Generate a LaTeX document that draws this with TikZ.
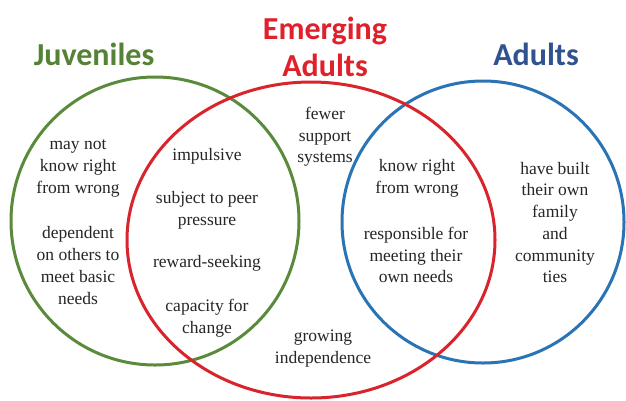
\documentclass[tikz,border=0pt]{standalone}
\usepackage{fontspec}
\setmainfont{Liberation Serif}
\newfontfamily\bodyfont{Liberation Serif}
\newfontfamily\titlefont{Carlito}
\definecolor{jgreen}{HTML}{5A8A3C}
\definecolor{ered}{HTML}{D9242C}
\definecolor{ablue}{HTML}{2A74B6}
\definecolor{tgreen}{HTML}{568236}
\definecolor{tred}{HTML}{E0202A}
\definecolor{tblue}{HTML}{30528F}
\begin{document}
\begin{tikzpicture}[x=1pt,y=-1pt,
  ring/.style={line width=3pt},
  body/.style={align=center,inner sep=0pt,font=\bodyfont\fontsize{17.5}{21.7}\selectfont,text=black!85},
  title/.style={align=center,inner sep=0pt,font=\titlefont\bfseries\fontsize{32}{37}\selectfont}]
\useasboundingbox[fill=white] (0,0) rectangle (626,400);
\draw[ring,jgreen] (155,221) circle[radius=144];
\draw[ring,ablue] (483,222) circle[radius=141];
\draw[ring,ered] (311,240) ellipse[x radius=184,y radius=158];
\node[title,text=tgreen,anchor=base] (tj) at (94,65) {Juveniles};
\node[title,text=tred,anchor=base] (te1) at (325,39) {Emerging};
\node[title,text=tred,anchor=base] (te2) at (325,76) {Adults};
\node[title,text=tblue,anchor=base] (ta) at (536,65) {Adults};
\node[body] (j1) at (78,168.5) {may not\\know right\\from wrong};
\node[body] (j2) at (78,265.5) {dependent\\on others to\\meet basic\\needs};
\node[body] (m1) at (207,156) {impulsive};
\node[body] (m2) at (207,210) {subject to peer\\pressure};
\node[body] (m3) at (207,263) {reward-seeking};
\node[body] (m4) at (207,318) {capacity for\\change};
\node[body] (c1) at (325,137) {fewer\\support\\systems};
\node[body] (c2) at (323,348.5) {growing\\independence};
\node[body] (r1) at (417,178.5) {know right\\from wrong};
\node[body] (r2) at (416,255) {responsible for\\meeting their\\own needs};
\node[body] (a1) at (555,222.5) {have built\\their own\\family\\and\\community\\ties};
\end{tikzpicture}
\end{document}
